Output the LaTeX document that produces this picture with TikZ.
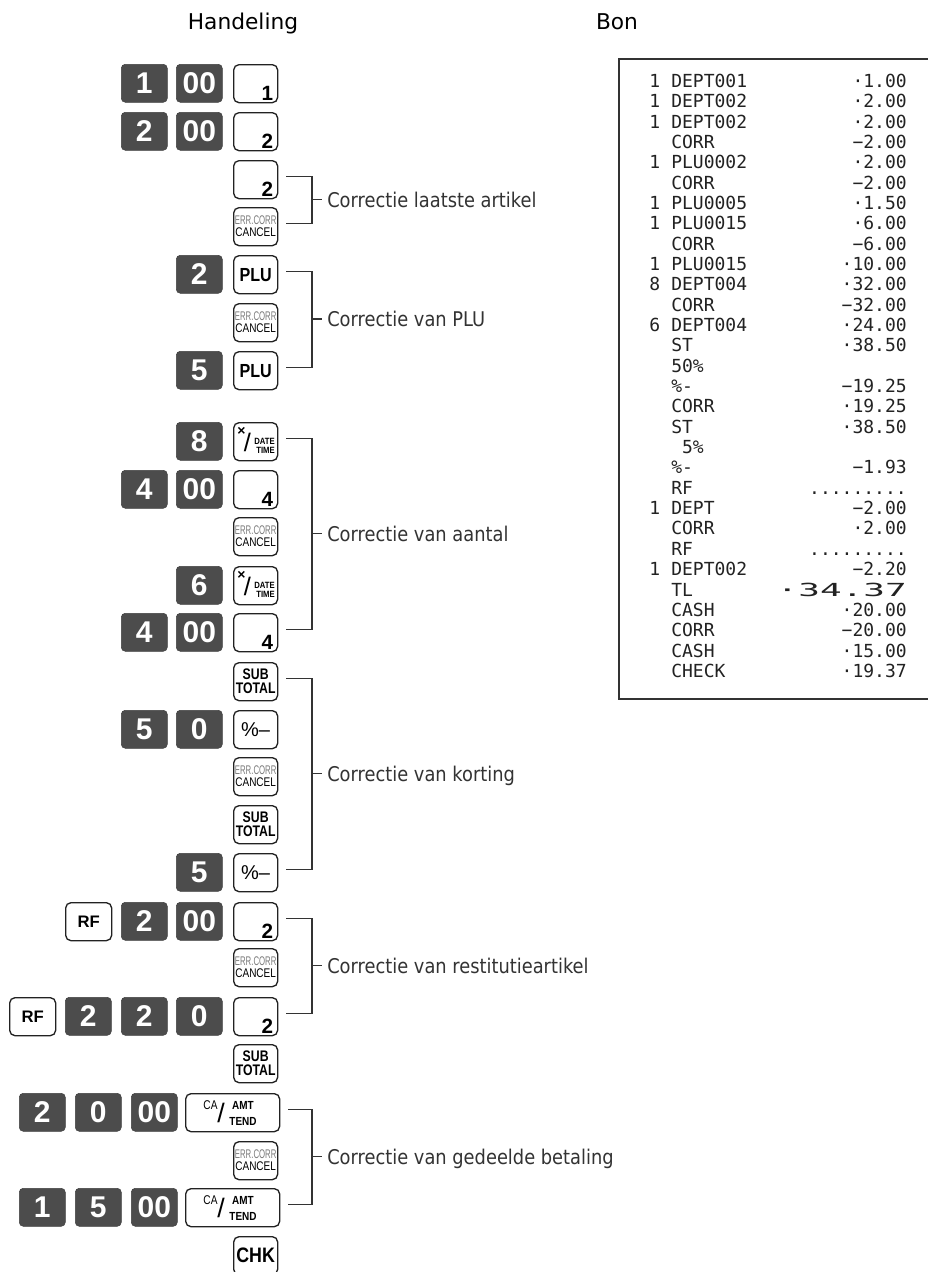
\documentclass[tikz,border=0pt]{standalone}
\usepackage{fontspec}
\usepackage{graphicx}
\setmainfont{DejaVu Sans}
\newfontfamily\hdrfont{DejaVu Sans}
\newfontfamily\lblfont{DejaVu Sans}[FakeStretch=0.88]
\newfontfamily\keyfont{Liberation Sans}
\newfontfamily\keycondA{Liberation Sans}[FakeStretch=0.85]
\newfontfamily\keycondB{Liberation Sans}[FakeStretch=0.8]
\newfontfamily\rcfont{DejaVu Sans Mono}
\definecolor{keydark}{HTML}{4C4C4C}
\definecolor{keyline}{HTML}{222222}
\definecolor{errgray}{HTML}{7A7A7A}
\definecolor{brkcol}{HTML}{333333}
\definecolor{rctext}{HTML}{222222}
\definecolor{lblcol}{HTML}{333333}
\tikzset{
  dkeyst/.style={anchor=north west, fill=keydark, draw=keydark!85!black, line width=0.4pt,
    rounded corners=3pt, minimum width=34.5pt, minimum height=28.5pt, inner sep=0pt,
    text=white, font=\keyfont\bfseries\fontsize{22.5}{22.5}\selectfont},
  wkeyst/.style={anchor=north west, draw=keyline, line width=1pt, fill=white,
    rounded corners=4pt, minimum width=33pt, minimum height=28.5pt, inner sep=0pt},
  numst/.style={anchor=south east, inner sep=0pt, font=\keyfont\bfseries\fontsize{15.5}{15.5}\selectfont},
  glyph/.style={inner sep=0pt},
  brk/.style={draw=brkcol, line width=1.1pt},
  lbl/.style={anchor=base west, inner sep=0pt, text=lblcol, font=\lblfont\fontsize{15.2}{18}\selectfont},
  hdr/.style={anchor=base, inner sep=0pt, font=\hdrfont\fontsize{16.3}{18}\selectfont},
  rc/.style={inner sep=0pt, text=rctext, font=\rcfont\fontsize{13.5}{15}\selectfont},
  rcbox/.style={draw=brkcol, line width=1.1pt}
}
% key macros
\newcommand\keyD[4]{\node[dkeyst] (#1) at (#2,#3) {#4};}
\newcommand\keyN[4]{\node[wkeyst] (#1) at (#2,#3) {};
  \node[numst] (#1n) at ([shift={(-5,-3)}]#1.south east) {#4};}
\newcommand\keyE[3]{\node[wkeyst, align=center, font=\keyfont\fontsize{9.4}{9}\selectfont] (#1) at (#2,#3)
  {\textcolor{errgray}{\scalebox{0.62}[1]{ERR.CORR}}\\\scalebox{0.8}[1]{CANCEL}};}
\newcommand\keyP[3]{\node[wkeyst, font=\keycondA\bfseries\fontsize{14.2}{14}\selectfont] (#1) at (#2,#3) {PLU};}
\newcommand\keyS[3]{\node[wkeyst, align=center, font=\keycondB\bfseries\fontsize{11.5}{10.5}\selectfont] (#1) at (#2,#3) {SUB\\TOTAL};}
\newcommand\keyM[3]{\node[wkeyst, font=\keyfont\fontsize{15}{15}\selectfont] (#1) at (#2,#3) {\%–};}
\newcommand\keyR[3]{\node[wkeyst, minimum width=34.5pt, font=\keyfont\bfseries\fontsize{12.5}{12.5}\selectfont] (#1) at (#2,#3) {RF};}
\newcommand\keyX[3]{\node[wkeyst] (#1) at (#2,#3) {};
  \node[glyph, font=\keyfont\bfseries\fontsize{10.5}{10.5}\selectfont] (#1m) at ([shift={(8.5,9)}]#1.north west) {×};
  \node[glyph, font=\keyfont\fontsize{19}{19}\selectfont] (#1s) at ([shift={(14.5,20)}]#1.north west) {/};
  \node[glyph, anchor=east, font=\keycondA\bfseries\fontsize{6.8}{6.8}\selectfont] (#1d) at ([shift={(42,19)}]#1.north west) {DATE};
  \node[glyph, anchor=east, font=\keycondA\bfseries\fontsize{6.8}{6.8}\selectfont] (#1t) at ([shift={(42,28.5)}]#1.north west) {TIME};}
\newcommand\keyC[3]{\node[wkeyst, minimum width=70.5pt] (#1) at (#2,#3) {};
  \node[glyph, font=\keycondB\fontsize{9.5}{9.5}\selectfont] (#1ca) at ([shift={(25.5,12)}]#1.north west) {CA};
  \node[glyph, font=\keyfont\fontsize{20}{20}\selectfont] (#1s) at ([shift={(36,19.5)}]#1.north west) {/};
  \node[glyph, align=center, font=\keycondA\bfseries\fontsize{8.8}{12}\selectfont] (#1am) at ([shift={(58,20)}]#1.north west) {AMT\\TEND};}
% bracket
\newcommand\brkt[5]{%
  \coordinate (v#1) at (312,{#4-3});
  \coordinate (t#1) at (322,{#4-3});
  \node[lbl] (l#1) at (327,{#4+4.5}) {#5};
  \draw[brk] ([shift={(8,-3)}]#2.east) -| (v#1) |- ([shift={(8,-3)}]#3.east);
  \draw[brk] (v#1) -- (t#1);}
% receipt lines
\newcommand\rcline[4]{%
  \node[rc, anchor=base west] (rq#1) at (649,{87.5+20.34*(#1-1)}) {#2};
  \node[rc, anchor=base west] (rn#1) at (671,{87.5+20.34*(#1-1)}) {#3};
  \node[rc, anchor=base east] (ra#1) at (907,{87.5+20.34*(#1-1)}) {#4};}
\newcommand\rclinen[3]{%
  \node[rc, anchor=base west] (rn#1) at (671,{87.5+20.34*(#1-1)}) {#2};
  \node[rc, anchor=base east] (ra#1) at (907,{87.5+20.34*(#1-1)}) {#3};}
\newcommand\rclinex[2]{%
  \node[rc, anchor=base west] (rn#1) at (671,{87.5+20.34*(#1-1)}) {#2};}
\begin{document}
\begin{tikzpicture}[x=0.75pt,y=-0.75pt]
\path[fill=white] (0,0) rectangle (928,1272);
\useasboundingbox (0,0) rectangle (928,1272);
% headers
\node[hdr] (h1) at (243,29) {Handeling};
\node[hdr] (h2) at (617,29) {Bon};
% keys
\keyD{k1a}{121}{64}{1} \keyD{k1b}{176}{64}{00} \keyN{k1c}{233}{64}{1}
\keyD{k2a}{121}{112}{2} \keyD{k2b}{176}{112}{00} \keyN{k2c}{233}{112}{2}
\keyN{k3c}{233}{160}{2}
\keyE{k4c}{233}{207}
\keyD{k5b}{176}{255}{2} \keyP{k5c}{233}{255}
\keyE{k6c}{233}{303}
\keyD{k7b}{176}{351}{5} \keyP{k7c}{233}{351}
\keyD{k8b}{176}{422}{8} \keyX{k8c}{233}{422}
\keyD{k9a}{121}{470}{4} \keyD{k9b}{176}{470}{00} \keyN{k9c}{233}{470}{4}
\keyE{k10c}{233}{517}
\keyD{k11b}{176}{566}{6} \keyX{k11c}{233}{566}
\keyD{k12a}{121}{613}{4} \keyD{k12b}{176}{613}{00} \keyN{k12c}{233}{613}{4}
\keyS{k13c}{233}{662}
\keyD{k14a}{121}{710}{5} \keyD{k14b}{176}{710}{0} \keyM{k14c}{233}{710}
\keyE{k15c}{233}{757}
\keyS{k16c}{233}{805}
\keyD{k17b}{176}{853}{5} \keyM{k17c}{233}{853}
\keyR{k18r}{65}{902} \keyD{k18a}{121}{902}{2} \keyD{k18b}{176}{902}{00} \keyN{k18c}{233}{902}{2}
\keyE{k19c}{233}{948}
\keyR{k20r}{9}{997} \keyD{k20x}{65}{997}{2} \keyD{k20a}{121}{997}{2} \keyD{k20b}{176}{997}{0} \keyN{k20c}{233}{997}{2}
\keyS{k21c}{233}{1044}
\keyD{k22x}{19}{1093}{2} \keyD{k22a}{75}{1093}{0} \keyD{k22b}{131}{1093}{00} \keyC{k22c}{185}{1093}
\keyE{k23c}{233}{1141}
\keyD{k24x}{19}{1188}{1} \keyD{k24a}{75}{1188}{5} \keyD{k24b}{131}{1188}{00} \keyC{k24c}{185}{1188}
\node[wkeyst, font=\keycondA\bfseries\fontsize{15.7}{15.7}\selectfont] (k25c) at (233,1236) {CHK};
% brackets
\brkt{1}{k3c}{k4c}{202.5}{Correctie laatste artikel}
\brkt{2}{k5c}{k7c}{322}{Correctie van PLU}
\brkt{3}{k8c}{k12c}{536.5}{Correctie van aantal}
\brkt{4}{k13c}{k17c}{776.5}{Correctie van korting}
\brkt{5}{k18c}{k20c}{968.5}{Correctie van restitutieartikel}
\brkt{6}{k22c}{k24c}{1159.5}{Correctie van gedeelde betaling}
% receipt
\draw[rcbox] (928,59) -- (619,59) -- (619,699) -- (928,699);
\rcline{1}{1}{DEPT001}{·1.00}
\rcline{2}{1}{DEPT002}{·2.00}
\rcline{3}{1}{DEPT002}{·2.00}
\rclinen{4}{CORR}{−2.00}
\rcline{5}{1}{PLU0002}{·2.00}
\rclinen{6}{CORR}{−2.00}
\rcline{7}{1}{PLU0005}{·1.50}
\rcline{8}{1}{PLU0015}{·6.00}
\rclinen{9}{CORR}{−6.00}
\rcline{10}{1}{PLU0015}{·10.00}
\rcline{11}{8}{DEPT004}{·32.00}
\rclinen{12}{CORR}{−32.00}
\rcline{13}{6}{DEPT004}{·24.00}
\rclinen{14}{ST}{·38.50}
\rclinex{15}{50\%}
\rclinen{16}{\%-}{−19.25}
\rclinen{17}{CORR}{·19.25}
\rclinen{18}{ST}{·38.50}
\rclinex{19}{\hphantom{0}5\%}
\rclinen{20}{\%-}{−1.93}
\rclinen{21}{RF}{.........}
\rcline{22}{1}{DEPT}{−2.00}
\rclinen{23}{CORR}{·2.00}
\rclinen{24}{RF}{.........}
\rcline{25}{1}{DEPT002}{−2.20}
\rclinen{26}{TL}{\scalebox{2}[1]{·34.37}}
\rclinen{27}{CASH}{·20.00}
\rclinen{28}{CORR}{−20.00}
\rclinen{29}{CASH}{·15.00}
\rclinen{30}{CHECK}{·19.37}
\end{tikzpicture}
\end{document}
